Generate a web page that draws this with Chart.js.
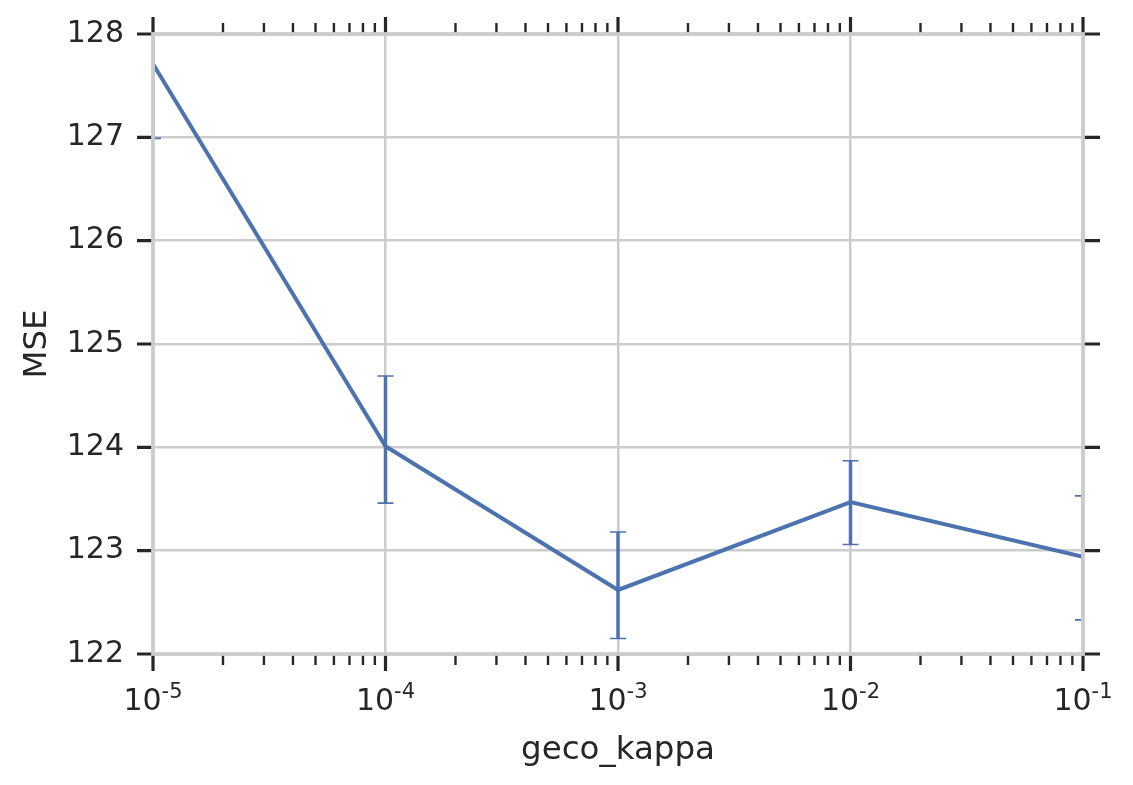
<!DOCTYPE html>
<html>
<head>
<meta charset="utf-8">
<title>MSE vs geco_kappa</title>
<script src="https://cdn.jsdelivr.net/npm/chart.js@4"></script>
<style>
  html, body { margin: 0; padding: 0; background: #ffffff; }
  canvas { display: block; }
</style>
</head>
<body>
<canvas id="myChart" width="1133" height="785"></canvas>
<script>
// data
const kappa = [1e-5, 1e-4, 1e-3, 1e-2, 1e-1];
const mseMean = [127.71, 124.01, 122.62, 123.47, 122.94];
const mseLow = [126.99, 123.46, 122.15, 123.06, 122.33];
const mseHigh = [128.43, 124.69, 123.18, 123.87, 123.53];

// tick labels
const xTickValues = [1e-5, 1e-4, 1e-3, 1e-2, 1e-1];
const xTickBase = '10';
const xTickExponents = ['-5', '-4', '-3', '-2', '-1'];
const yTickValues = [122, 123, 124, 125, 126, 127, 128];

const lineColor = '#4c72b0';
const inkColor = '#262626';
const gridColor = '#cccccc';
const fontFamily = '"DejaVu Sans", sans-serif';

// minor tick positions on the log axis (2..9 per decade)
function minorTicks(){
  const out = [];
  for (let e = -5; e < -1; e++){
    for (let m = 2; m <= 9; m++){
      out.push(m * Math.pow(10, e));
    }
  }
  return out;
}

const errorBars = {
  id: 'errorBars',
  afterDatasetsDraw(chart){
    const {ctx, chartArea, scales} = chart;
    const xs = scales.x, ys = scales.y;
    ctx.save();
    ctx.beginPath();
    ctx.rect(chartArea.left, chartArea.top, chartArea.right - chartArea.left, chartArea.bottom - chartArea.top);
    ctx.clip();
    ctx.strokeStyle = lineColor;
    kappa.forEach((k, i) => {
      const x = xs.getPixelForValue(k);
      const yLo = ys.getPixelForValue(mseLow[i]);
      const yHi = ys.getPixelForValue(mseHigh[i]);
      ctx.lineWidth = 3.5;
      ctx.beginPath();
      ctx.moveTo(x, yLo);
      ctx.lineTo(x, yHi);
      ctx.stroke();
      ctx.lineWidth = 1.6;
      ctx.beginPath();
      ctx.moveTo(x - 8, yLo); ctx.lineTo(x + 8, yLo);
      ctx.moveTo(x - 8, yHi); ctx.lineTo(x + 8, yHi);
      ctx.stroke();
    });
    ctx.restore();
  }
};

const frame = {
  id: 'frame',
  afterDraw(chart){
    const {ctx, chartArea, scales} = chart;
    const {left, right, top, bottom} = chartArea;
    const xs = scales.x, ys = scales.y;
    ctx.save();
    ctx.strokeStyle = inkColor;
    ctx.lineCap = 'butt';

    // x ticks, bottom and top
    ctx.lineWidth = 2.4;
    minorTicks().forEach(v => {
      const x = xs.getPixelForValue(v);
      ctx.beginPath();
      ctx.moveTo(x, bottom); ctx.lineTo(x, bottom + 11);
      ctx.moveTo(x, top); ctx.lineTo(x, top - 11);
      ctx.stroke();
    });
    ctx.lineWidth = 3.2;
    xTickValues.forEach(v => {
      const x = xs.getPixelForValue(v);
      ctx.beginPath();
      ctx.moveTo(x, bottom); ctx.lineTo(x, bottom + 17);
      ctx.moveTo(x, top); ctx.lineTo(x, top - 17);
      ctx.stroke();
    });
    // y ticks, left and right
    yTickValues.forEach(v => {
      const y = ys.getPixelForValue(v);
      ctx.beginPath();
      ctx.moveTo(left, y); ctx.lineTo(left - 16, y);
      ctx.moveTo(right, y); ctx.lineTo(right + 17, y);
      ctx.stroke();
    });

    // spines
    ctx.strokeStyle = gridColor;
    ctx.lineWidth = 3.8;
    ctx.strokeRect(left, top, right - left, bottom - top);

    // x tick labels with superscript exponent
    ctx.fillStyle = inkColor;
    ctx.textBaseline = 'alphabetic';
    ctx.textAlign = 'left';
    const baseFont = '30px ' + fontFamily;
    const supFont = '21px ' + fontFamily;
    xTickValues.forEach((v, i) => {
      const x = xs.getPixelForValue(v);
      ctx.font = baseFont;
      const w1 = ctx.measureText(xTickBase).width;
      ctx.font = supFont;
      const w2 = ctx.measureText(xTickExponents[i]).width;
      const start = x - (w1 + w2) / 2;
      ctx.font = baseFont;
      ctx.fillText(xTickBase, start, bottom + 56);
      ctx.font = supFont;
      ctx.fillText(xTickExponents[i], start + w1, bottom + 44);
    });
    ctx.restore();
  }
};

const data = {
  datasets: [{
    label: 'MSE',
    data: kappa.map((k, i) => ({x: k, y: mseMean[i]})),
    borderColor: lineColor,
    backgroundColor: lineColor,
    borderWidth: 4,
    pointRadius: 0,
    tension: 0
  }]
};

const config = {
  type: 'line',
  data: data,
  options: {
    responsive: false,
    animation: false,
    devicePixelRatio: 1,
    layout: { padding: { top: 34, right: 50, left: 0, bottom: 0 } },
    plugins: {
      legend: { display: false },
      tooltip: { enabled: false }
    },
    scales: {
      x: {
        type: 'logarithmic',
        min: 1e-5,
        max: 1e-1,
        afterBuildTicks: scale => {
          scale.ticks = xTickValues.map(v => ({value: v}));
        },
        afterFit: scale => {
          scale.height = 131;
          scale.paddingLeft = 0;
          scale.paddingRight = 0;
        },
        ticks: { display: false },
        grid: { color: gridColor, lineWidth: 2.5, drawTicks: false },
        border: { display: false },
        title: {
          display: true,
          text: 'geco_kappa',
          color: inkColor,
          font: { family: fontFamily, size: 32.5 },
          padding: { top: 0, bottom: 15 }
        }
      },
      y: {
        min: 122,
        max: 128,
        afterBuildTicks: scale => {
          scale.ticks = yTickValues.map(v => ({value: v}));
        },
        afterFit: scale => {
          scale.width = 153;
          scale.paddingTop = 0;
          scale.paddingBottom = 0;
        },
        ticks: {
          color: inkColor,
          font: { family: fontFamily, size: 30 },
          padding: 29,
          callback: v => String(v)
        },
        grid: { color: gridColor, lineWidth: 2.5, drawTicks: false },
        border: { display: false },
        title: {
          display: true,
          text: 'MSE',
          color: inkColor,
          font: { family: fontFamily, size: 32.5 },
          padding: { top: 18, bottom: 0 }
        }
      }
    }
  },
  plugins: [errorBars, frame]
};

const chart = new Chart(document.getElementById('myChart'), config);
</script>
</body>
</html>
